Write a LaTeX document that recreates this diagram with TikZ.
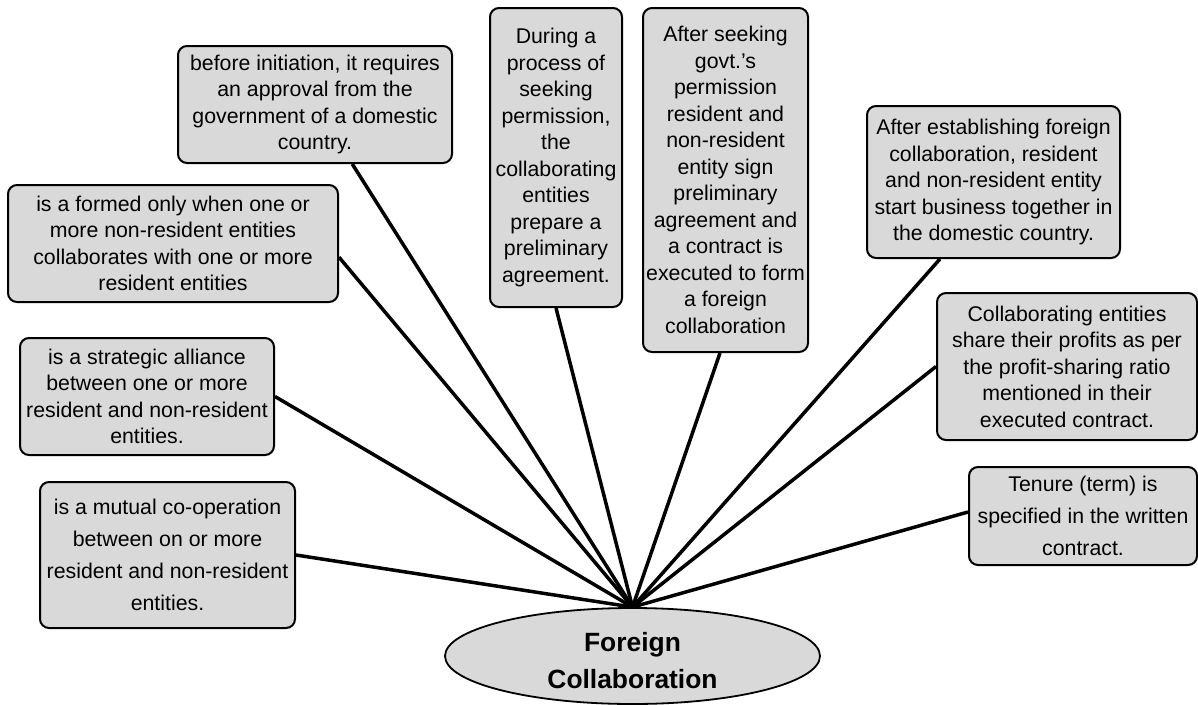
\documentclass[tikz,border=0pt]{standalone}
\usepackage{fontspec}
\setmainfont{Liberation Sans}
\usetikzlibrary{shapes.geometric,calc}
\tikzset{
  infobox/.style={draw=black, line width=2pt, fill=boxgray, rounded corners=9pt,
    align=center, inner sep=0pt, font=\fontsize{21.3}{26.5}\selectfont},
  widebox/.style={infobox, font=\fontsize{21.3}{32}\selectfont},
  link/.style={line width=3.5pt, draw=black},
  hub/.style={ellipse, draw=black, line width=1.8pt, fill=boxgray, inner sep=0pt,
    minimum width=375pt, minimum height=96pt},
  hubtext/.style={align=center, inner sep=0pt,
    font=\fontsize{26.4}{37}\selectfont\bfseries}
}
\definecolor{boxgray}{HTML}{D9D9D9}
\begin{document}
\begin{tikzpicture}[x=1pt,y=-1pt]
\useasboundingbox (0,0) rectangle (1198,704);

\node[hub] (fc) at (632.5,656) {};
\node[hubtext] (fct) at ($(fc.center)+(0,5)$) {Foreign\\Collaboration};

\node[infobox, minimum width=274pt, minimum height=117pt] (b1) at (315,104.5)
  {before initiation, it requires\\an approval from the\\government of a domestic\\country.};
\node[infobox, minimum width=330pt, minimum height=117pt] (b2) at (173,243.5)
  {is a formed only when one or\\more non-resident entities\\collaborates with one or more\\resident entities};
\node[infobox, minimum width=254pt, minimum height=117pt] (b3) at (147,396.5)
  {is a strategic alliance\\between one or more\\resident and non-resident\\entities.};
\node[widebox, minimum width=255pt, minimum height=146pt] (b4) at (167.5,555)
  {is a mutual co-operation\\between on or more\\resident and non-resident\\entities.};
\node[infobox, minimum width=132pt, minimum height=299pt] (b5) at (556,157.5)
  {During a\\process of\\seeking\\permission,\\the\\collaborating\\entities\\prepare a\\preliminary\\agreement.};
\node[infobox, minimum width=165pt, minimum height=344pt] (b6) at (725.5,180)
  {After seeking\\govt.'s\\permission\\resident and\\non-resident\\entity sign\\preliminary\\agreement and\\a contract is\\executed to form\\a foreign\\collaboration};
\node[infobox, minimum width=253pt, minimum height=152pt] (b7) at (993.5,182)
  {After establishing foreign\\collaboration, resident\\and non-resident entity\\start business together in\\the domestic country.};
\node[infobox, minimum width=260pt, minimum height=147pt] (b8) at (1067,366.5)
  {Collaborating entities\\share their profits as per\\the profit-sharing ratio\\mentioned in their\\executed contract.};
\node[widebox, minimum width=228pt, minimum height=98pt] (b9) at (1083,516)
  {Tenure (term) is\\specified in the written\\contract.};

\draw[link] ($(b1.south west)!0.635!(b1.south east)$) -- (fc.north);
\draw[link] ($(b2.north east)!0.615!(b2.south east)$) -- (fc.north);
\draw[link] (b3.east) -- (fc.north);
\draw[link] (b4.east) -- (fc.north);
\draw[link] (b5.south) -- (fc.north);
\draw[link] ($(b6.south west)!0.467!(b6.south east)$) -- (fc.north);
\draw[link] ($(b7.south west)!0.29!(b7.south east)$) -- (fc.north);
\draw[link] (b8.west) -- (fc.north);
\draw[link] ($(b9.north west)!0.46!(b9.south west)$) -- (fc.north);
\end{tikzpicture}
\end{document}
